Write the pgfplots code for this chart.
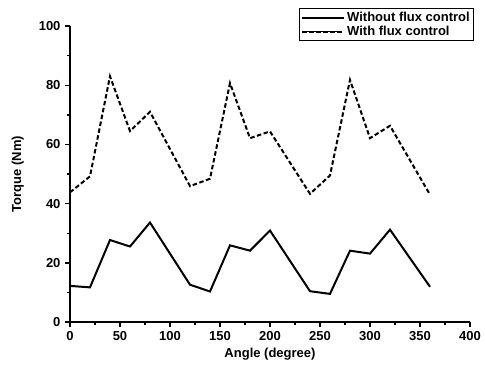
\documentclass[border=0pt]{standalone}
\usepackage{pgfplots}
\pgfplotsset{compat=1.18}
\usepackage{fontspec}
\setmainfont{Liberation Sans}
\begin{document}
\begin{tikzpicture}
\begin{axis}[
  name=ax,
  scale only axis,
  width=400pt, height=296pt,
  xmin=0, xmax=400, ymin=0, ymax=100,
  axis x line*=bottom, axis y line*=left,
  axis line style={line width=1.6pt},
  xtick={0,50,...,400}, ytick={0,20,...,100},
  minor x tick num=1, minor y tick num=1,
  tick align=outside,
  major tick length=5pt, minor tick length=3pt,
  tick style={line width=1.4pt, black},
  font=\fontsize{13}{15}\selectfont\bfseries,
  /pgf/number format/assume math mode=true,
  ticklabel style={font=\fontsize{13}{15}\selectfont\bfseries},
  xticklabel style={yshift=-1pt},
  yticklabel style={xshift=-1pt},
  xlabel={Angle (degree)}, ylabel={Torque (Nm)},
  label style={font=\fontsize{13}{15}\selectfont\bfseries},
  xlabel style={yshift=0pt},
  ylabel style={yshift=8pt},
  legend style={at={(1.01,1.061)}, anchor=north east, draw=black, line width=1.4pt,
    font=\fontsize{13}{15}\selectfont\bfseries, inner sep=1.5pt, row sep=-1pt},
  legend image code/.code={\path (0pt,0pt) -- (42pt,0pt);
    \draw[#1, line width=1.8pt] (3pt,0pt) -- (35pt,0pt);},
  legend cell align=left,
  clip=false,
]
\addplot[black, line width=2pt] coordinates {
(0,12.2) (20,11.7) (40,27.7) (60,25.5) (80,33.6) (120,12.6) (140,10.3)
(160,25.9) (180,24.1) (200,30.9) (240,10.4) (260,9.5) (280,24.1) (300,23.1)
(320,31.2) (360,11.9)};
\addlegendentry{Without flux control}
\addplot[black, line width=2pt, dash pattern=on 4.5pt off 2.5pt] coordinates {
(0,43.8) (20,49.2) (40,83.0) (60,64.5) (80,71.0) (120,45.9) (140,48.4)
(160,80.7) (180,62.1) (200,64.4) (240,43.3) (260,49.5) (280,81.8) (300,62.1)
(320,66.3) (360,43.0)};
\addlegendentry{With flux control}
\end{axis}
\path ([xshift=-70pt,yshift=-51pt]ax.south west) rectangle ([xshift=15pt,yshift=26pt]ax.north east);
\end{tikzpicture}
\end{document}
